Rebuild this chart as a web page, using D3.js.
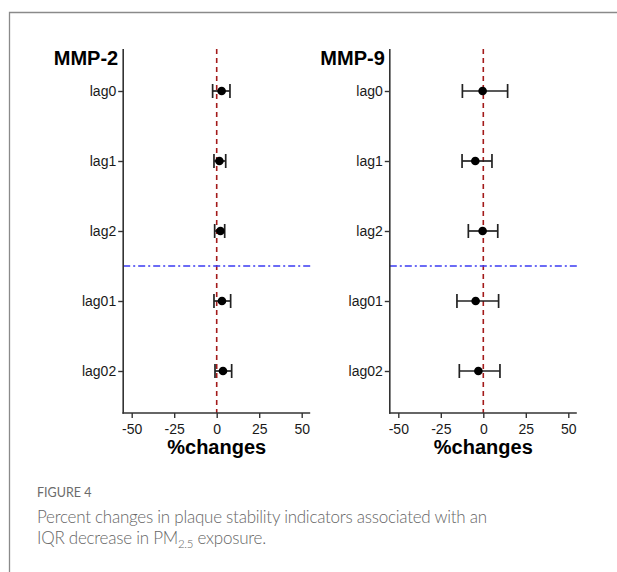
<!DOCTYPE html>
<html>
<head>
<meta charset="utf-8">
<script src="https://cdn.jsdelivr.net/npm/d3@7"></script>
<style>
body { margin: 0; background: #fff; }
svg { display: block; }
</style>
</head>
<body>
<div id="my_dataviz"></div>
<script>
// data
var lags = ["lag0", "lag1", "lag2", "lag01", "lag02"];
var xTicks = [-50, -25, 0, 25, 50];

var mmp2Est = [2.9, 1.6, 2.2, 3.1, 3.7];
var mmp2Low = [-2.4, -1.6, -1.2, -1.6, -1.0];
var mmp2High = [7.8, 5.3, 4.7, 8.2, 8.8];

var mmp9Est = [-0.4, -4.7, -0.4, -4.5, -2.9];
var mmp9Low = [-12.3, -12.5, -8.8, -15.5, -14.1];
var mmp9High = [14.3, 5.1, 8.5, 9.0, 9.8];

var panels = [
  {title: "MMP-2", est: mmp2Est, low: mmp2Low, high: mmp2High, x0: 123.2, x1: 310.2},
  {title: "MMP-9", est: mmp9Est, low: mmp9Low, high: mmp9High, x0: 389.8, x1: 576.8}
];

var W = 617, H = 572;
var plotTop = 49, plotBottom = 413;

var svg = d3.select("#my_dataviz")
  .append("svg")
  .attr("width", W)
  .attr("height", H);

// frame
svg.append("path")
  .attr("d", "M9.5," + H + "V12.5H" + W)
  .attr("fill", "none")
  .attr("stroke", "#8a8a8a")
  .attr("stroke-width", 1.3);

var y = d3.scalePoint()
  .domain(lags)
  .range([plotTop, plotBottom])
  .padding(0.6);

panels.forEach(function (p) {
  var x = d3.scaleLinear()
    .domain([-55, 55])
    .range([p.x0, p.x1]);

  var g = svg.append("g");

  // reference line at 0
  g.append("line")
    .attr("x1", x(0)).attr("x2", x(0))
    .attr("y1", plotTop).attr("y2", plotBottom)
    .attr("stroke", "#a31a1a")
    .attr("stroke-width", 1.6)
    .attr("stroke-dasharray", "5,4");

  // separator between single and cumulative lags
  var ySep = (y("lag2") + y("lag01")) / 2;
  g.append("line")
    .attr("x1", p.x0).attr("x2", p.x1)
    .attr("y1", ySep).attr("y2", ySep)
    .attr("stroke", "#3b3bf2")
    .attr("stroke-width", 1.4)
    .attr("stroke-dasharray", "7,3,2,3");

  // X axis
  var xa = g.append("g")
    .attr("transform", "translate(0," + plotBottom + ")")
    .call(d3.axisBottom(x).tickValues(xTicks).tickSize(5).tickSizeOuter(0)
      .tickFormat(function (d) { return String(d); }));
  // Y axis
  var ya = g.append("g")
    .attr("transform", "translate(" + p.x0 + ",0)")
    .call(d3.axisLeft(y).tickSize(5).tickSizeOuter(0));

  [xa, ya].forEach(function (a) {
    a.select(".domain").attr("stroke", "#333").attr("stroke-width", 1.6);
    a.selectAll(".tick line").attr("stroke", "#333").attr("stroke-width", 1.4);
    a.selectAll("text")
      .attr("fill", "#1a1a1a")
      .style("font-family", "Liberation Sans, Arial, sans-serif")
      .style("font-size", "14px");
  });
  xa.select(".domain").attr("d", "M" + (p.x0 - 0.8) + ",0H" + p.x1);
  ya.select(".domain").attr("d", "M0," + plotTop + "V" + (plotBottom + 0.8));
  xa.selectAll("text").attr("dy", "0.95em");
  ya.selectAll("text").attr("x", -7);

  // error bars
  var rows = g.append("g").selectAll("g")
    .data(lags)
    .enter()
    .append("g");

  rows.append("line")
    .attr("x1", function (d, i) { return x(p.low[i]); })
    .attr("x2", function (d, i) { return x(p.high[i]); })
    .attr("y1", function (d) { return y(d); })
    .attr("y2", function (d) { return y(d); })
    .attr("stroke", "#222").attr("stroke-width", 1.7);

  ["low", "high"].forEach(function (k) {
    rows.append("line")
      .attr("x1", function (d, i) { return x(p[k][i]); })
      .attr("x2", function (d, i) { return x(p[k][i]); })
      .attr("y1", function (d) { return y(d) - 7; })
      .attr("y2", function (d) { return y(d) + 7; })
      .attr("stroke", "#222").attr("stroke-width", 1.7);
  });

  rows.append("circle")
    .attr("cx", function (d, i) { return x(p.est[i]); })
    .attr("cy", function (d) { return y(d); })
    .attr("r", 4.3)
    .attr("fill", "#000");

  // panel title
  g.append("text")
    .attr("x", p.x0 - 5)
    .attr("y", 65)
    .attr("text-anchor", "end")
    .style("font-family", "Liberation Sans, Arial, sans-serif")
    .style("font-weight", "bold")
    .style("font-size", "20px")
    .text(p.title);

  // x title
  g.append("text")
    .attr("x", (p.x0 + p.x1) / 2)
    .attr("y", 454)
    .attr("text-anchor", "middle")
    .style("font-family", "Liberation Sans, Arial, sans-serif")
    .style("font-weight", "bold")
    .style("font-size", "20px")
    .text("%changes");
});

// caption
svg.append("text")
  .attr("x", 37)
  .attr("y", 497)
  .attr("fill", "#6b6b6b")
  .style("font-family", "Lato, sans-serif")
  .style("font-size", "12.5px")
  .text("FIGURE 4");

var cap = svg.append("text")
  .attr("fill", "#666")
  .style("font-family", "Lato, sans-serif")
  .style("font-weight", "300")
  .style("font-size", "17px")
  .style("letter-spacing", "-0.25px");
cap.append("tspan").attr("x", 37).attr("y", 523)
  .text("Percent changes in plaque stability indicators associated with an");
var l2 = cap.append("tspan").attr("x", 37).attr("y", 544);
l2.append("tspan").text("IQR decrease in PM");
l2.append("tspan").attr("dy", 4).style("font-size", "11.5px").text("2.5");
l2.append("tspan").attr("dy", -4).text(" exposure.");
</script>
</body>
</html>
